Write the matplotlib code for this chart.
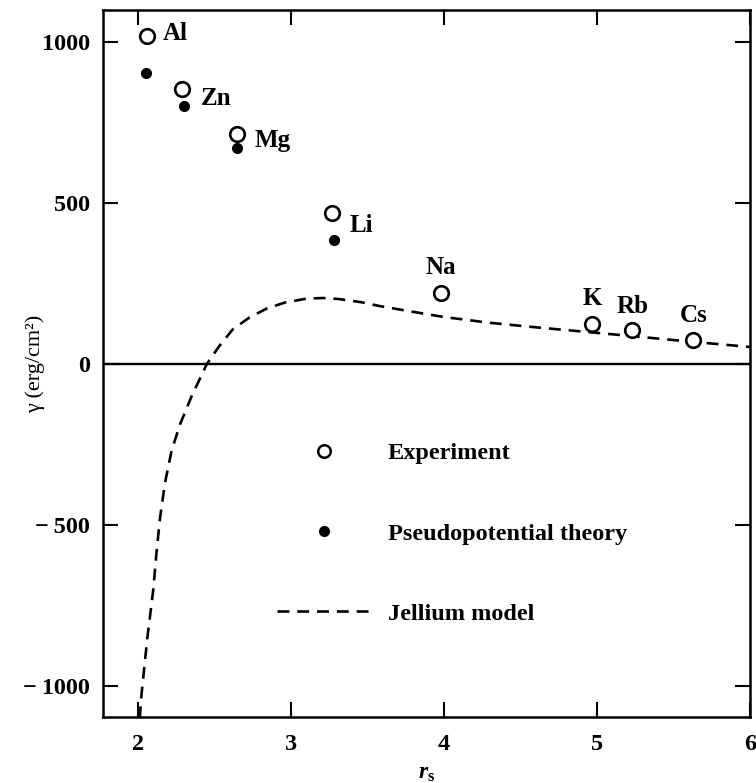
import matplotlib
matplotlib.use("Agg")
import matplotlib.pyplot as plt
from matplotlib.lines import Line2D

# ---- data ----
metals = ["Al", "Zn", "Mg", "Li", "Na", "K", "Rb", "Cs"]
rs_exp = [2.06, 2.29, 2.65, 3.27, 3.98, 4.97, 5.23, 5.63]
gamma_exp = [1020, 855, 715, 470, 220, 125, 105, 75]

rs_pseudo = [2.05, 2.30, 2.65, 3.28]
gamma_pseudo = [905, 800, 672, 385]

rs_jellium = [2.012, 2.02, 2.06, 2.10, 2.12, 2.144, 2.176, 2.22, 2.275, 2.353,
              2.45, 2.53, 2.62, 2.73, 2.84, 2.96, 3.10, 3.21, 3.31, 3.46,
              3.58, 3.80, 4.00, 4.30, 4.60, 4.88, 5.20, 5.60, 6.00]
gamma_jellium = [-1100, -1040, -855, -700, -590, -478, -370, -268, -187, -97,
                 0, 55, 108, 145, 172, 191, 203, 205, 202, 192,
                 180, 162, 146, 128, 114, 102, 88, 70, 53]

xticks = [2, 3, 4, 5, 6]
yticks = [-1000, -500, 0, 500, 1000]
ytick_labels = ["\u2212\u20091000", "\u2212\u2009500", "0", "500", "1000"]

# label offsets in pixels (layout only)
label_offsets = [(16, 2), (18, -10), (17, -7), (17, -13),
                 (0, 26), (0, 25), (0, 24), (0, 24)]
label_ha = ["left", "left", "left", "left", "center", "center", "center", "center"]

SERIF = ["Liberation Serif", "DejaVu Serif"]
plt.rcParams["font.family"] = SERIF
plt.rcParams["mathtext.fontset"] = "custom"
plt.rcParams["mathtext.it"] = "Liberation Serif:italic:bold"
plt.rcParams["mathtext.rm"] = "Liberation Serif:bold"
plt.rcParams["mathtext.bf"] = "Liberation Serif:bold"

fig = plt.figure(figsize=(7.56, 7.83), dpi=100)
ax = fig.add_axes([0.136, 0.084, 0.856, 0.903])

ax.axhline(0, color="black", lw=1.7, zorder=1)
ax.plot(rs_jellium, gamma_jellium, ls=(0, (4.5, 3)), color="black", lw=1.9,
        label="Jellium model", zorder=2)
ax.plot(rs_exp, gamma_exp, ls="none", marker="o", ms=10.5, mfc="white",
        mec="black", mew=1.9, label="Experiment", zorder=3)
ax.plot(rs_pseudo, gamma_pseudo, ls="none", marker="o", ms=7, mfc="black",
        mec="black", label="Pseudopotential theory", zorder=3)

for name, x, y, off, ha in zip(metals, rs_exp, gamma_exp, label_offsets, label_ha):
    ax.annotate(name, (x, y), xytext=off, textcoords="offset pixels",
                ha=ha, va="center", fontsize=18, fontweight="bold")

ax.set_xlim(1.77, 6.0)
ax.set_ylim(-1097, 1099)
ax.set_xticks(xticks)
ax.set_yticks(yticks)
ax.set_yticklabels(ytick_labels)
ax.tick_params(direction="in", top=True, right=True, length=11, width=1.5,
               labelsize=17.5, pad=9)
for lab in ax.get_xticklabels() + ax.get_yticklabels():
    lab.set_fontweight("bold")
ax.tick_params(axis="x", pad=12)
for s in ax.spines.values():
    s.set_linewidth(1.8)

ax.set_ylabel("\u03b3 (erg/cm\u00b2)", fontsize=16)
ax.yaxis.label.set_va("center")
ax.yaxis.set_label_coords(-0.105, 0.5)
ax.set_xlabel("$r_\\mathrm{s}$", fontsize=17)
ax.xaxis.label.set_va("center")
ax.xaxis.set_label_coords(0.5, -0.079)

handles = [
    Line2D([], [], ls="none", marker="o", ms=9, mfc="white", mec="black", mew=1.8),
    Line2D([], [], ls="none", marker="o", ms=7, mfc="black", mec="black"),
    Line2D([], [], ls=(0, (4.5, 3)), color="black", lw=1.9),
]
leg = ax.legend(handles, ["Experiment", "Pseudopotential theory", "Jellium model"],
                loc="upper left", bbox_to_anchor=(0.236, 0.42), frameon=False,
                handlelength=3.8, handletextpad=0.75, labelspacing=2.4,
                borderpad=0.4,
                prop={"size": 17.5, "weight": "bold", "family": SERIF})

fig.savefig("out.png", dpi=100)
